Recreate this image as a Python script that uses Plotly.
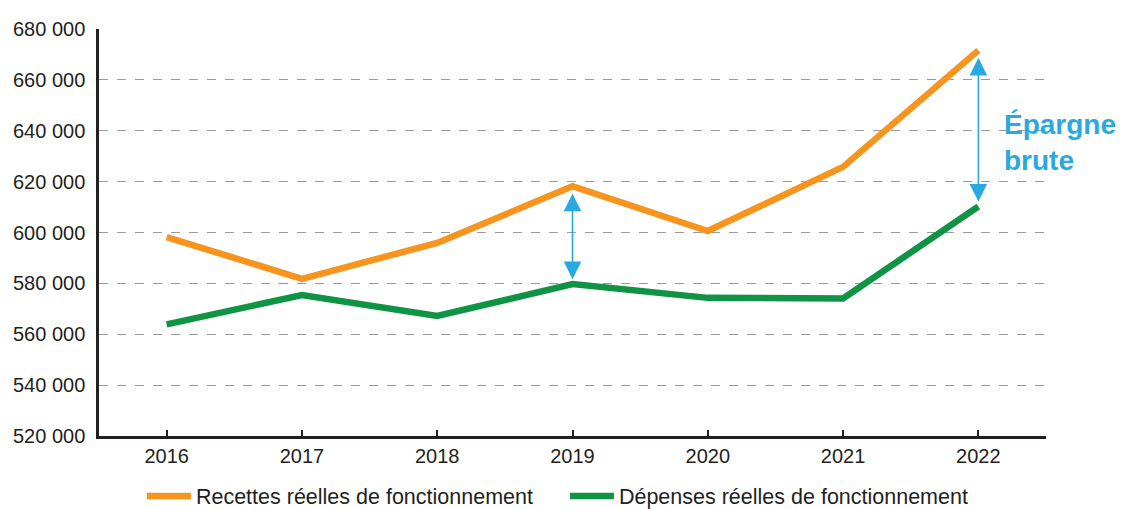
import plotly.graph_objects as go

years = [2016, 2017, 2018, 2019, 2020, 2021, 2022]
recettes = [598200, 581800, 595900, 618200, 600600, 625800, 671600]
depenses = [563900, 575400, 567200, 579700, 574300, 574100, 610200]
y_ticks = [520000, 540000, 560000, 580000, 600000, 620000, 640000, 660000, 680000]
y_tick_labels = ["520 000", "540 000", "560 000", "580 000", "600 000", "620 000", "640 000", "660 000", "680 000"]
arrow_years = [2019, 2022]

ORANGE = "#f7941d"
GREEN = "#0f9345"
BLUE = "#29a9e1"
TXT = "#231f20"
FONT = "Liberation Sans, Arial, Helvetica, sans-serif"

fig = go.Figure()
fig.add_trace(go.Scatter(x=years, y=recettes, mode="lines", name="Recettes réelles de fonctionnement",
                         line=dict(color=ORANGE, width=6.5)))
fig.add_trace(go.Scatter(x=years, y=depenses, mode="lines", name="Dépenses réelles de fonctionnement",
                         line=dict(color=GREEN, width=6.5)))

annotations = []
for yr in arrow_years:
    i = years.index(yr)
    annotations.append(dict(
        x=yr, y=depenses[i], ax=yr, ay=recettes[i], xref="x", yref="y", axref="x", ayref="y",
        text="", showarrow=True, arrowhead=2, arrowside="end+start", arrowsize=2.2, arrowwidth=1.6,
        arrowcolor=BLUE, standoff=5, startstandoff=6))

annotations.append(dict(
    x=2022.18, y=(recettes[-1] + depenses[-1]) / 2, xref="x", yref="y", xanchor="left", yanchor="middle",
    yshift=-14, text="<b>Épargne<br>brute</b>", showarrow=False, align="left", borderpad=0,
    font=dict(family=FONT, size=28, color=BLUE)))

# the page body adds an 8px offset; the figure is sized so that it ends at the window's edges
fig.update_layout(
    width=1116, height=501,
    margin=dict(l=91, r=78, t=21, b=73),
    paper_bgcolor="white", plot_bgcolor="white",
    font=dict(family=FONT, size=20, color=TXT),
    showlegend=True,
    legend=dict(orientation="h", xref="container", yref="container", x=0.12, y=0.026,
                xanchor="left", yanchor="middle",
                font=dict(family=FONT, size=21.5, color=TXT), entrywidth=364, entrywidthmode="pixels",
                itemwidth=44),
    annotations=annotations,
    xaxis=dict(range=[2015.5, 2022.5], tickvals=years, ticktext=[str(y) for y in years],
               showgrid=False, showline=True, linecolor=TXT, linewidth=2.5,
               ticks="inside", ticklen=6, tickwidth=2, tickcolor=TXT, automargin=False,
               tickfont=dict(family=FONT, size=20, color=TXT), zeroline=False, fixedrange=True),
    yaxis=dict(range=[520000, 680000], tickvals=y_ticks, ticktext=y_tick_labels,
               showgrid=True, gridcolor="#9a9a9a", griddash="dash", gridwidth=1,
               showline=True, linecolor=TXT, linewidth=2.5, ticks="", ticklabelstandoff=7,
               automargin=False,
               tickfont=dict(family=FONT, size=20, color=TXT), zeroline=False),
)

fig.write_html("out.html")
